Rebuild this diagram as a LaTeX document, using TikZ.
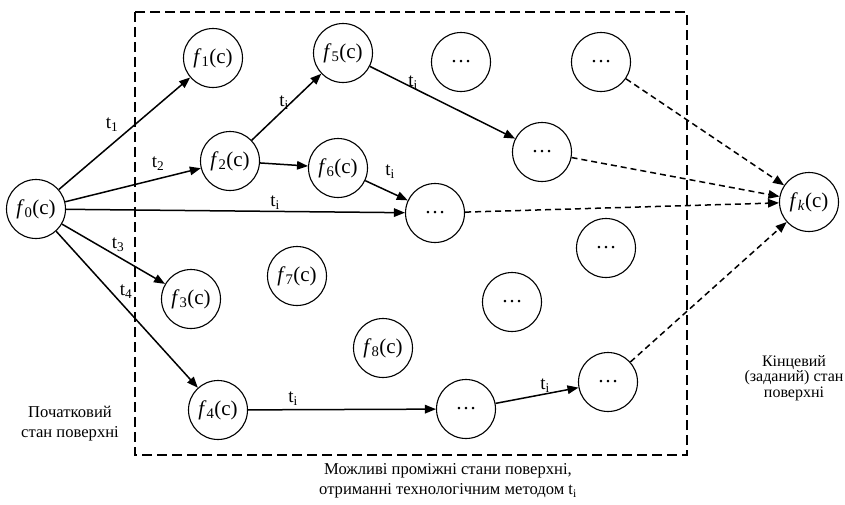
\documentclass[tikz,border=0pt]{standalone}
\usepackage{fontspec}
\setmainfont{LiberationSerif}[Extension=.ttf, UprightFont=*-Regular,
  ItalicFont=*-Italic, BoldFont=*-Bold, BoldItalicFont=*-BoldItalic]
\usetikzlibrary{arrows.meta}
\tikzset{
  stnode/.style={draw, circle, line width=1.1pt, minimum size=59pt, inner sep=0pt,
                 font=\fontsize{21}{24}\selectfont},
  stedge/.style={-{Triangle[length=11pt,width=8.5pt]}, line width=1.5pt},
  stdash/.style={stedge, dash pattern=on 6pt off 4pt},
  stbox/.style={line width=1.2pt, dash pattern=on 10pt off 5pt},
  stlabel/.style={font=\fontsize{19}{21}\selectfont, inner sep=0pt},
  sttext/.style={font=\fontsize{16.6}{20}\selectfont, align=center},
}
\newcommand{\fc}[1]{\textit{f}\textsubscript{#1}(c)}
\newcommand{\tsub}[1]{t\textsubscript{#1}}

\begin{document}
\begin{tikzpicture}[x=1pt,y=-1pt]
  \useasboundingbox (0,0) rectangle (845,504);
  \draw[stbox] (135,12) rectangle (687,455);

  % states
  \node[stnode] (f0) at (36,209)  {\fc{0}};
  \node[stnode] (f1) at (213,58)  {\fc{1}};
  \node[stnode] (f5) at (343,53)  {\fc{5}};
  \node[stnode] (d1) at (461,62)  {\dots};
  \node[stnode] (d2) at (601,62)  {\dots};
  \node[stnode] (f2) at (230,161) {\fc{2}};
  \node[stnode] (f6) at (338,168) {\fc{6}};
  \node[stnode] (d3) at (542,152) {\dots};
  \node[stnode] (d4) at (435,213) {\dots};
  \node[stnode] (fk) at (809,202) {\fc{\textit{k}}};
  \node[stnode] (d5) at (606,248) {\dots};
  \node[stnode] (f7) at (297,276) {\fc{7}};
  \node[stnode] (f3) at (191,299) {\fc{3}};
  \node[stnode] (d6) at (512,302) {\dots};
  \node[stnode] (f8) at (383,348) {\fc{8}};
  \node[stnode] (f4) at (218,410) {\fc{4}};
  \node[stnode] (d7) at (466,409) {\dots};
  \node[stnode] (d8) at (608,382) {\dots};

  % transitions
  \draw[stedge] (f0) -- (f1);
  \draw[stedge] (f0) -- (f2);
  \draw[stedge] (f0) -- (d4);
  \draw[stedge] (f0) -- (f3);
  \draw[stedge] (f0) -- (f4);
  \draw[stedge] (f2) -- (f5);
  \draw[stedge] (f2) -- (f6);
  \draw[stedge] (f6) -- (d4);
  \draw[stedge] (f5) -- (d3);
  \draw[stedge] (f4) -- (d7);
  \draw[stedge] (d7) -- (d8);

  % to the final state
  \draw[stdash] (d2) -- (fk);
  \draw[stdash] (d3) -- (fk);
  \draw[stdash] (d4) -- (fk);
  \draw[stdash] (d8) -- (fk);

  % method labels
  \node[stlabel] (t1)  at (112,125) {\tsub{1}};
  \node[stlabel] (t2)  at (158,164) {\tsub{2}};
  \node[stlabel] (t3)  at (118,245) {\tsub{3}};
  \node[stlabel] (t4)  at (126,292) {\tsub{4}};
  \node[stlabel] (t25) at (284,103) {\tsub{i}};
  \node[stlabel] (t53) at (413,83)  {\tsub{i}};
  \node[stlabel] (t64) at (390,172) {\tsub{i}};
  \node[stlabel] (t04) at (275,203) {\tsub{i}};
  \node[stlabel] (t47) at (293,399) {\tsub{i}};
  \node[stlabel] (t78) at (545,386) {\tsub{i}};

  \node[sttext] (start) at (70,424) {Початковий\\стан поверхні};
  \node[sttext, font=\fontsize{16}{15.5}\selectfont] (final) at (794,378)
    {Кінцевий\\(заданий) стан\\поверхні};
  \node[sttext] (mid) at (448,481)
    {Можливі проміжні стани поверхні,\\отриманні технологічним методом \tsub{i}};
\end{tikzpicture}
\end{document}
